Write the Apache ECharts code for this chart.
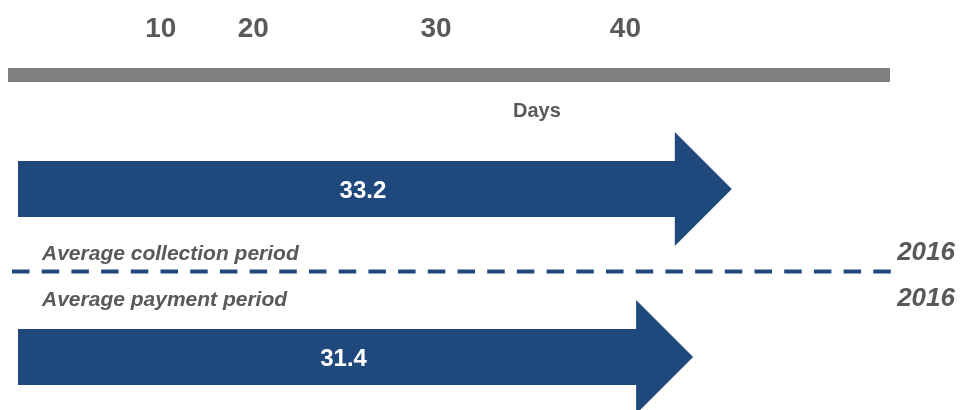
<!DOCTYPE html>
<html>
<head>
<meta charset="utf-8">
<script src="https://cdn.jsdelivr.net/npm/echarts@6/dist/echarts.min.js"></script>
<style>
  html, body { margin: 0; padding: 0; background: #fff; }
  #main { width: 960px; height: 410px; }
</style>
</head>
<body>
<div id="main"></div>
<script>
// chart data
const periods = ["Average collection period", "Average payment period"];
const years = ["2016", "2016"];
const days = [33.2, 31.4];
// ruler labels and where they stand on the days ruler
const tickLabels = ["10", "20", "30", "40"];
const tickAt = [7.1, 11.4, 19.9, 28.7];

const FONT = "'Liberation Sans', Arial, sans-serif";
const BLUE = "#1f497d";
const GREY_TEXT = "#595959";

const chart = echarts.init(document.getElementById("main"));

// arrow: body + head, tip sits at the value
function renderArrow(params, api) {
  const idx = api.value(0);
  const val = api.value(1);
  const start = api.coord([0, idx]);
  const tip = api.coord([val, idx]);
  const cy = tip[1];
  const headLen = 57, bodyHalf = 28, headHalf = 57;
  const base = tip[0] - headLen;
  return {
    type: "group",
    children: [
      {
        type: "polygon",
        shape: {
          points: [
            [start[0], cy - bodyHalf],
            [base, cy - bodyHalf],
            [base, cy - headHalf],
            [tip[0], cy],
            [base, cy + headHalf],
            [base, cy + bodyHalf],
            [start[0], cy + bodyHalf]
          ]
        },
        style: { fill: BLUE }
      },
      {
        type: "text",
        x: (start[0] + tip[0]) / 2 - 12,
        y: cy + 2,
        style: {
          text: String(val),
          fill: "#fff",
          font: "bold 24px " + FONT,
          align: "center",
          verticalAlign: "middle"
        }
      }
    ]
  };
}

const graphics = [
  {
    type: "text",
    left: 513,
    top: 101,
    style: { text: "Days", fill: GREY_TEXT, font: "bold 20px " + FONT }
  },
  {
    type: "line",
    shape: { x1: 12, y1: 271.5, x2: 897, y2: 271.5 },
    style: { stroke: BLUE, lineWidth: 4, lineDash: [17.5, 12.2] }
  }
];
const nameY = [254.5, 300.5];
const yearY = [252.5, 299];
periods.forEach((p, i) => {
  graphics.push({
    type: "text",
    x: 42,
    y: nameY[i],
    style: {
      text: p,
      fill: GREY_TEXT,
      font: "italic bold 21px " + FONT,
      verticalAlign: "middle"
    }
  });
  graphics.push({
    type: "text",
    x: 955,
    y: yearY[i],
    style: {
      text: years[i],
      fill: GREY_TEXT,
      font: "italic bold 26px " + FONT,
      align: "right",
      verticalAlign: "middle"
    }
  });
});

chart.setOption({
  animation: false,
  grid: [
    { left: 18, width: 860, top: 105, height: 305 },
    { left: 8, width: 882, top: 74, height: 1 }
  ],
  xAxis: [
    { gridIndex: 0, type: "value", min: 0, max: 40, show: false },
    {
      gridIndex: 1,
      type: "value",
      position: "top",
      min: 0,
      max: 41,
      splitLine: { show: false },
      axisTick: { show: false },
      axisLine: { show: true, lineStyle: { color: "#808080", width: 14, cap: "butt" } },
      axisLabel: {
        customValues: tickAt,
        margin: 31,
        color: GREY_TEXT,
        fontFamily: FONT,
        fontWeight: "bold",
        fontSize: 28,
        formatter: v => tickLabels[tickAt.indexOf(v)] || ""
      }
    }
  ],
  yAxis: [
    // row 0 centred at y=189, row 1 at y=357
    { gridIndex: 0, type: "value", inverse: true, min: -0.5, max: 1.3155, show: false },
    { gridIndex: 1, type: "value", show: false }
  ],
  graphic: graphics,
  series: [
    {
      type: "custom",
      xAxisIndex: 0,
      yAxisIndex: 0,
      clip: false,
      renderItem: renderArrow,
      encode: { x: 1, y: 0 },
      data: days.map((d, i) => [i, d])
    }
  ]
});
</script>
</body>
</html>
